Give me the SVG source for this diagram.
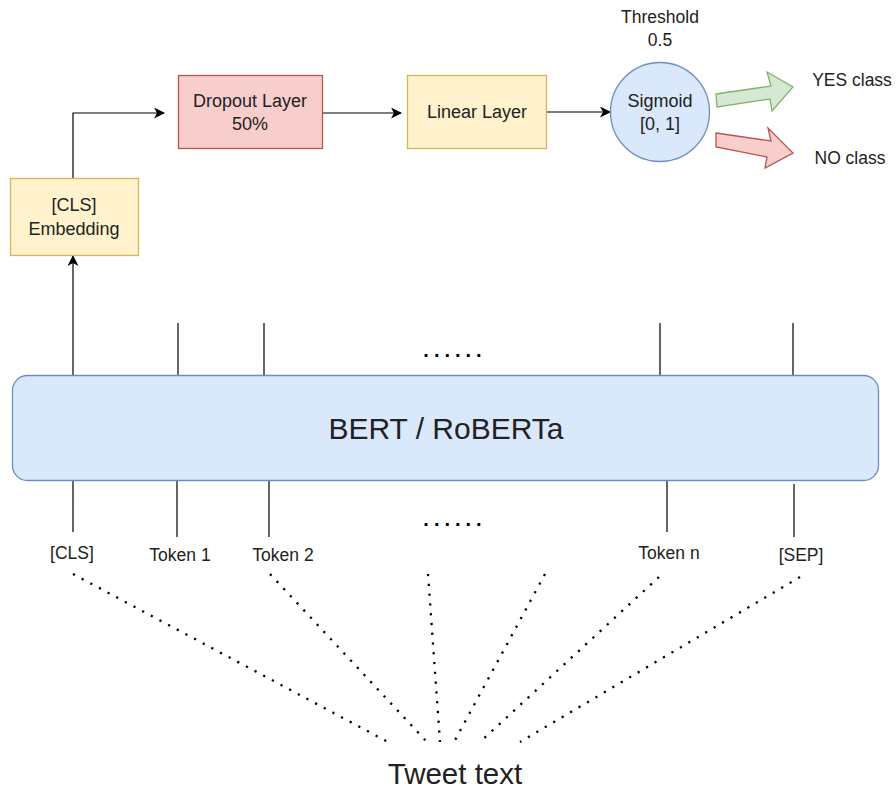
<svg xmlns="http://www.w3.org/2000/svg" width="896" height="789" viewBox="0 0 896 789">
<defs>
<marker id="ah" markerWidth="11" markerHeight="11" refX="10" refY="5.5" orient="auto" markerUnits="userSpaceOnUse">
<path d="M0,0 L11,5.5 L0,11 L3,5.5 Z" fill="#000"/>
</marker>
<style>
text{font-family:"Liberation Sans",Arial,sans-serif;fill:#222;text-anchor:middle}
.t{font-size:18px}
.s{font-size:17.5px}
.yel{fill:#fff2cc;stroke:#d6b656;stroke-width:1.3}
.red{fill:#f8cecc;stroke:#b85450;stroke-width:1.3}
.blu{fill:#dae8fc;stroke:#6c8ebf;stroke-width:1.3}
.grn{fill:#d5e8d4;stroke:#82b366;stroke-width:1.3}
.ln{stroke:#000;stroke-width:1.2;fill:none}
.dot{stroke:#000;stroke-width:2.3;fill:none;stroke-dasharray:2.2 7.6}
.dd{font-size:20px;font-weight:bold;letter-spacing:5px;fill:#000}
</style>
</defs>
<rect width="896" height="789" fill="#fff"/>
<g id="connectors">
<path class="ln" d="M73,178 V113 H164" marker-end="url(#ah)"/>
<path class="ln" d="M322,113 H401" marker-end="url(#ah)"/>
<path class="ln" d="M547,112 H610" marker-end="url(#ah)"/>
<path class="ln" d="M73,375 V256" marker-end="url(#ah)"/>
<path class="ln" d="M178,323 V375 M264,323 V377 M660,323 V375 M793,323 V377"/>
<path class="ln" d="M73,480 V532 M177,480 V537 M269,480 V537 M667,480 V532 M794,484 V537"/>
<path class="dot" d="M73,574 L388,742"/>
<path class="dot" d="M270,574 L427,742"/>
<path class="dot" d="M428,574 L440,742"/>
<path class="dot" d="M545,574 L454,742"/>
<path class="dot" d="M659,577 L480,742"/>
<path class="dot" d="M800,577 L520,742"/>
</g>
<g id="cls-embedding">
<rect class="yel" x="10.5" y="178.5" width="128" height="77"/>
<text class="t" x="74" y="211">[CLS]</text>
<text class="t" x="74" y="235">Embedding</text>
</g>
<g id="dropout">
<rect class="red" x="178.5" y="75.5" width="144" height="73"/>
<text class="t" x="250" y="107">Dropout Layer</text>
<text class="t" x="250" y="130">50%</text>
</g>
<g id="linear">
<rect class="yel" x="407.5" y="75.5" width="139" height="73"/>
<text class="t" x="477" y="118">Linear Layer</text>
</g>
<g id="sigmoid">
<circle class="blu" cx="660" cy="112" r="49.5"/>
<text class="t" x="660" y="107">Sigmoid</text>
<text class="t" x="660" y="130">[0, 1]</text>
</g>
<g id="threshold">
<text class="s" x="660" y="23">Threshold</text>
<text class="s" x="660" y="46">0.5</text>
</g>
<g id="yes-arrow">
<polygon class="grn" points="716,94 771,86 767,72 793,87 772,111 770,99 717,107"/>
</g>
<g id="no-arrow">
<polygon class="red" points="716,133 771,141 768,128 793,153 765,168 767,157 716,147"/>
</g>
<g id="yes-class"><text class="s" x="852" y="86">YES class</text></g>
<g id="no-class"><text class="s" x="850" y="164">NO class</text></g>
<g id="bert">
<rect class="blu" x="12.5" y="375.5" width="866" height="105" rx="15" ry="15"/>
<text x="446" y="439" style="font-size:30px">BERT / RoBERTa</text>
</g>
<g id="dots-top"><text class="dd" x="455" y="357">......</text></g>
<g id="dots-bottom"><text class="dd" x="455" y="526">......</text></g>
<g id="tok-cls"><text class="s" x="72" y="559">[CLS]</text></g>
<g id="tok-1"><text class="s" x="180" y="561">Token 1</text></g>
<g id="tok-2"><text class="s" x="283" y="561">Token 2</text></g>
<g id="tok-n"><text class="s" x="669" y="559">Token n</text></g>
<g id="tok-sep"><text class="s" x="801" y="561">[SEP]</text></g>
<g id="tweet"><text x="455" y="784" style="font-size:29.5px">Tweet text</text></g>
</svg>
